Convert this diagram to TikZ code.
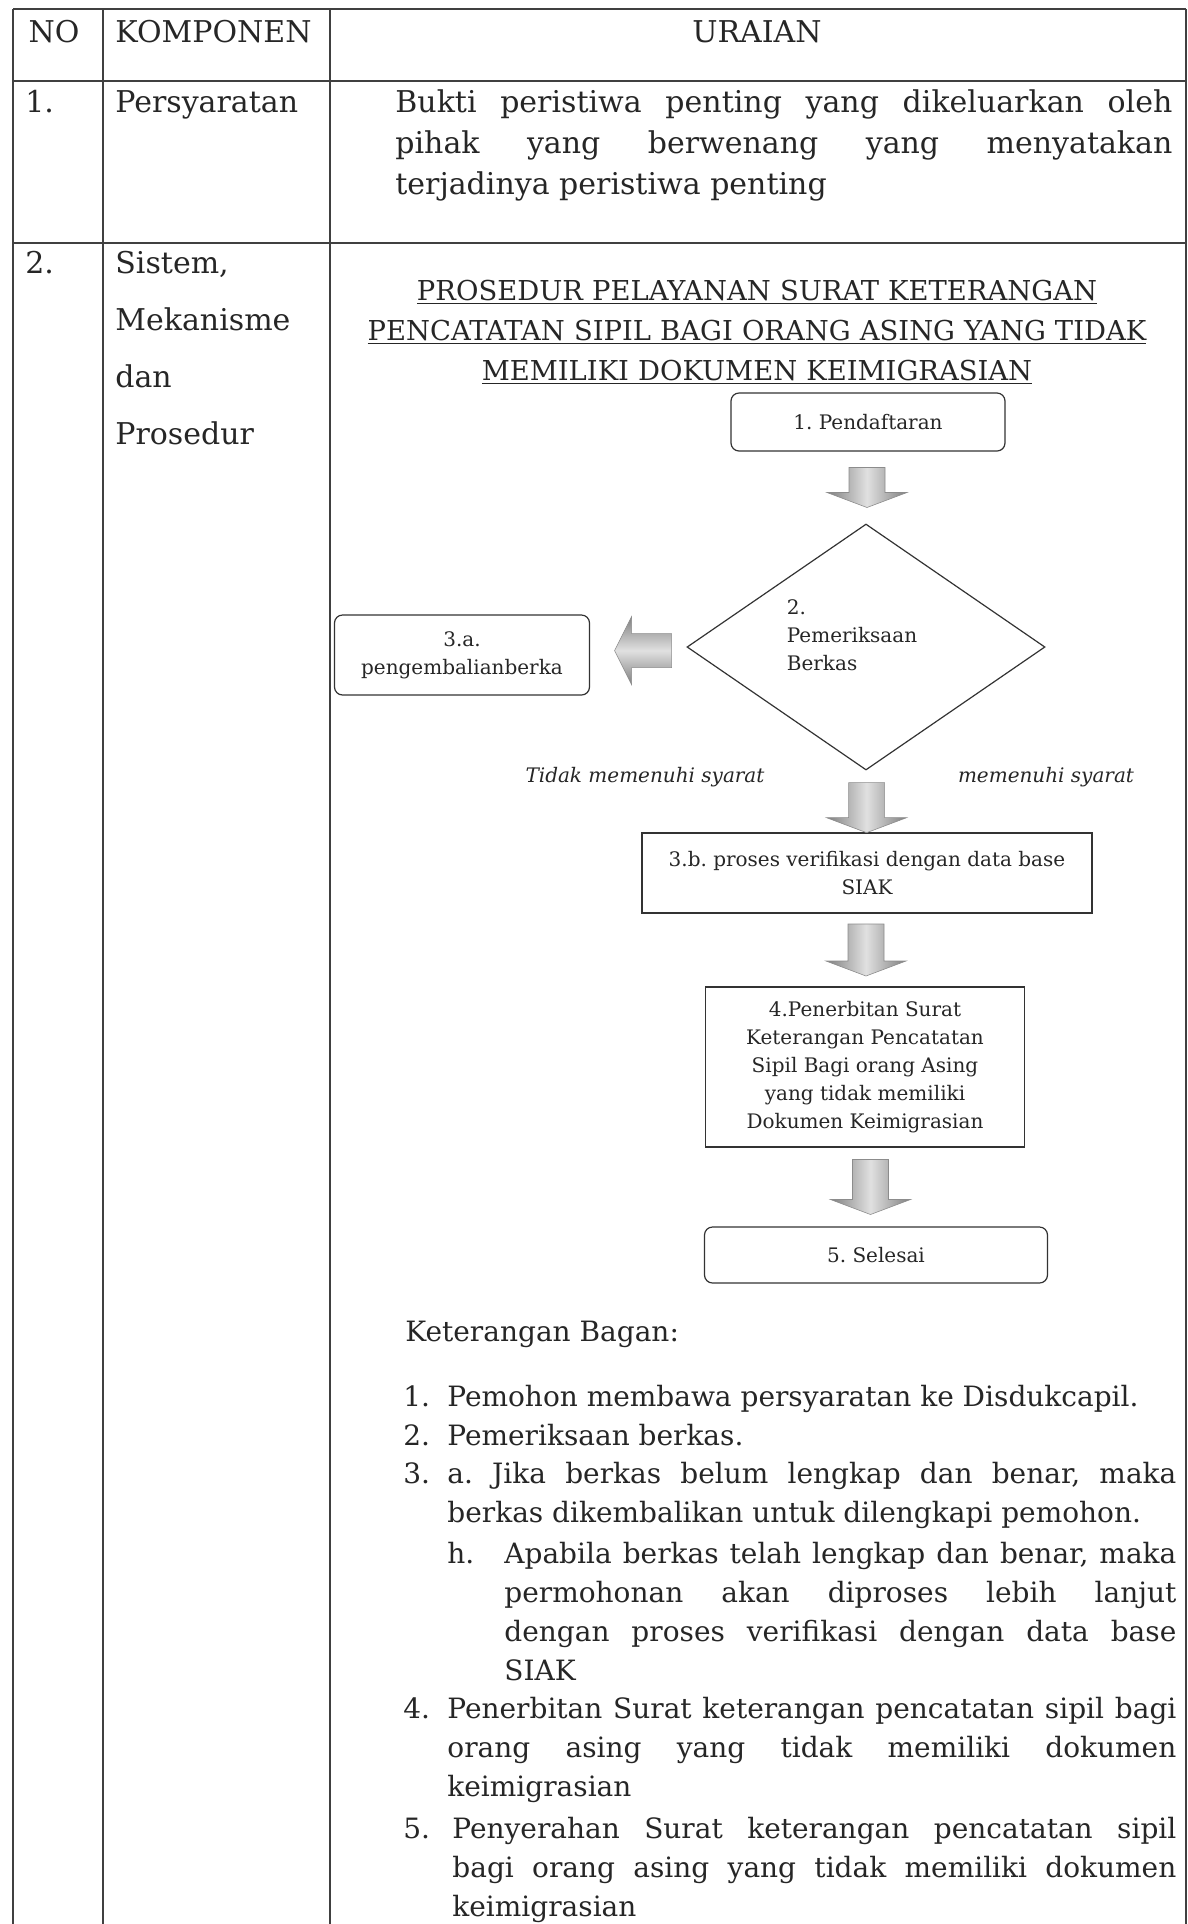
\documentclass[tikz,border=0pt]{standalone}
\usepackage{fontspec}
\setmainfont{DejaVu Serif}
\usetikzlibrary{shapes.geometric,calc}

\hyphenpenalty=10000
\tolerance=9999
\frenchspacing

\tikzset{
  garis/.style={draw=black!75, line width=0.7pt},
  teks/.style={inner sep=0pt, text=black!85, font=\fontsize{15}{20.5}\selectfont},
  butir/.style={inner sep=0pt, anchor=base west, align=justify, text=black!85, font=\fontsize{14}{19.5}\selectfont},
  kotak/.style={draw=black!80, line width=0.6pt, align=center, inner sep=0pt, text=black!85, font=\fontsize{10}{14}\selectfont},
  kotakbulat/.style={kotak, rounded corners=4pt},
  ket/.style={inner sep=0pt, text=black!85, font=\fontsize{10}{14}\selectfont\itshape},
  panahbawahblok/.style={draw=black!45, line width=0.3pt, left color=black!50, right color=black!50, middle color=black!12},
  panahkiriblok/.style={draw=black!45, line width=0.3pt, top color=black!50, bottom color=black!50, middle color=black!12},
  pics/panahbawah/.style={code={
    \path[panahbawahblok] (-18,-#1/2) -- (18,-#1/2) -- (18,#1/2-15) -- (40,#1/2-15)
      -- (0,#1/2) -- (-40,#1/2-15) -- (-18,#1/2-15) -- cycle;
  }},
  pics/panahkiri/.style={code={
    \path[panahkiriblok] (#1/2,-17) -- (#1/2,17) -- (-#1/2+17,17) -- (-#1/2+17,34)
      -- (-#1/2,0) -- (-#1/2+17,-34) -- (-#1/2+17,-17) -- cycle;
  }},
}

\begin{document}
\begin{tikzpicture}[x=0.5pt, y=-0.5pt]
    \useasboundingbox (0,0) rectangle (1188,1924);

    % Garis tabel
    \draw[garis] (13,9) -- (1186,9);
    \draw[garis] (13,81) -- (1186,81);
    \draw[garis] (13,243) -- (1186,243);
    \foreach \x in {13,103,330,1186}
        \draw[garis] (\x,9) -- (\x,1924);

    % Kepala tabel
    \node[teks, anchor=base] (no) at (54,42) {NO};
    \node[teks, anchor=base west] (komponen) at (115,42) {KOMPONEN};
    \node[teks, anchor=base] (uraian) at (757,42) {URAIAN};

    % Baris 1
    \node[teks, anchor=base west] (no1) at (25,112) {1.};
    \node[teks, anchor=base west] (syarat) at (115,112) {Persyaratan};
    \node[teks, anchor=base west, text width=388.5pt, align=justify] (bukti) at (395,112)
        {Bukti peristiwa penting yang dikeluarkan oleh\linebreak pihak yang berwenang yang menyatakan\linebreak terjadinya peristiwa penting};

    % Baris 2
    \node[teks, anchor=base west] (no2) at (25,273) {2.};
    \node[teks, anchor=base west, text width=100pt, align=left, font=\fontsize{15}{28.5}\selectfont] (sistem) at (115,273)
        {Sistem,\\Mekanisme\\dan\\Prosedur};

    % Judul bagan
    \node[teks, anchor=base, text width=420pt, align=center, font=\fontsize{13.7}{20}\selectfont] (judul) at (757,300)
        {\underline{PROSEDUR PELAYANAN SURAT KETERANGAN}\\
         \underline{PENCATATAN SIPIL BAGI ORANG ASING YANG TIDAK}\\
         \underline{MEMILIKI DOKUMEN KEIMIGRASIAN}};

    % Bagan alir
    \node[kotakbulat, minimum width=137pt, minimum height=29pt] (daftar) at (868,422) {1. Pendaftaran};
    \node[kotak, diamond, minimum width=179pt, minimum height=123pt] (periksa) at (866,647) {};
    \node[kotak, draw=none, align=left] (periksateks) at ($(periksa.center)+(-14,-12)$)
        {2.\\Pemeriksaan\\Berkas};
    \node[kotakbulat, minimum width=127.5pt, minimum height=40pt] (kembali) at (462,655)
        {3.a.\\pengembalianberka};
    \node[kotak, minimum width=225pt, minimum height=40pt] (verif) at (867,873)
        {3.b. proses verifikasi dengan data base\\SIAK};
    \node[kotak, minimum width=159.5pt, minimum height=80pt] (terbit) at (865,1067)
        {4.Penerbitan Surat\\Keterangan Pencatatan\\Sipil Bagi orang Asing\\yang tidak memiliki\\Dokumen Keimigrasian};
    \node[kotakbulat, minimum width=171.5pt, minimum height=28pt] (selesai) at (876,1255) {5. Selesai};

    \node[ket, anchor=base] (tidak) at (645,782) {Tidak memenuhi syarat};
    \node[ket, anchor=base] (memenuhi) at (1046,782) {memenuhi syarat};

    % Panah blok
    \pic at ($(daftar.south)!.5!(periksa.north)$) {panahbawah=40};
    \pic at ($(periksa.west)!.45!(kembali.east)$) {panahkiri=57};
    \pic at ($(periksa.south)!.6!(verif.north)$) {panahbawah=50};
    \pic at ($(verif.south)!.5!(terbit.north)$) {panahbawah=52};
    \pic at ($(terbit.south)!.5!(selesai.north)$) {panahbawah=55};

    % Keterangan bagan
    \node[butir] (bagan) at (405,1341) {Keterangan Bagan:};
    \foreach \nomor/\y in {1/1406, 2/1445, 3/1483, 4/1718, 5/1838}
        \node[butir] (nomor\nomor) at (403,\y) {\nomor.};
    \node[butir, text width=364.5pt] (ket1) at (447,1406) {Pemohon membawa persyaratan ke Disdukcapil.};
    \node[butir, text width=364.5pt] (ket2) at (447,1445) {Pemeriksaan berkas.};
    \node[butir, text width=364.5pt] (ket3) at (447,1483)
        {a. Jika berkas belum lengkap dan benar, maka\linebreak berkas dikembalikan untuk dilengkapi pemohon.};
    \node[butir] (hurufh) at (447,1563) {h.};
    \node[butir, text width=336pt] (keth) at (504,1563)
        {Apabila berkas telah lengkap dan benar, maka\linebreak permohonan akan diproses lebih lanjut\linebreak dengan proses verifikasi dengan data base\linebreak SIAK};
    \node[butir, text width=364.5pt] (ket4) at (447,1718)
        {Penerbitan Surat keterangan pencatatan sipil bagi\linebreak orang asing yang tidak memiliki dokumen\linebreak keimigrasian};
    \node[butir, text width=362pt] (ket5) at (452,1838)
        {Penyerahan Surat keterangan pencatatan sipil\linebreak bagi orang asing yang tidak memiliki dokumen\linebreak keimigrasian};
\end{tikzpicture}
\end{document}
